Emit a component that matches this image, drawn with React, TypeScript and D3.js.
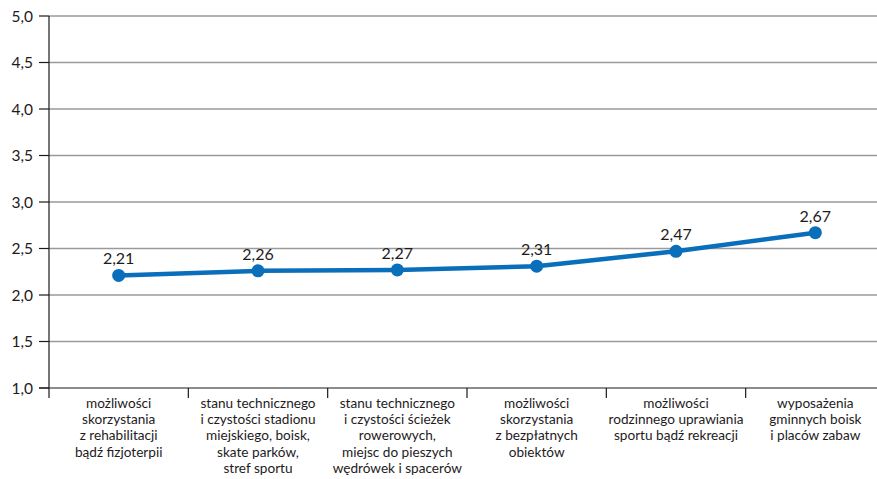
import React from 'react';
import * as d3 from 'd3';

const categories: string[][] = [
  ['możliwości', 'skorzystania', 'z rehabilitacji', 'bądź fizjoterpii'],
  ['stanu technicznego', 'i czystości stadionu', 'miejskiego, boisk,', 'skate parków,', 'stref sportu'],
  ['stanu technicznego', 'i czystości ścieżek', 'rowerowych,', 'miejsc do pieszych', 'wędrówek i spacerów'],
  ['możliwości', 'skorzystania', 'z bezpłatnych', 'obiektów'],
  ['możliwości', 'rodzinnego uprawiania', 'sportu bądź rekreacji'],
  ['wyposażenia', 'gminnych boisk', 'i placów zabaw'],
];
const values = [2.21, 2.26, 2.27, 2.31, 2.47, 2.67];
const yTicks = [1, 1.5, 2, 2.5, 3, 3.5, 4, 4.5, 5];

const W = 877;
const H = 479;
const margin = { top: 16, right: -8, bottom: 91, left: 49 };
const FONT = 'Lato, "Open Sans", sans-serif';

export default function App() {
  const x = d3
    .scaleBand<number>()
    .domain(values.map((_, i) => i))
    .range([margin.left, W - margin.right]);
  const y = d3.scaleLinear().domain([1, 5]).range([H - margin.bottom, margin.top]);
  const fmt = (v: number, d: number) => v.toFixed(d).replace('.', ',');

  const line = d3
    .line<number>()
    .x((_, i) => (x(i) as number) + x.bandwidth() / 2)
    .y((d) => y(d));

  const y0 = y(1);

  return (
    <div style={{ position: 'fixed', left: 0, top: 0 }}>
      <svg width={W} height={H} style={{ display: 'block', fontFamily: FONT }}>
        <rect width={W} height={H} fill="#fff" />
        {yTicks.slice(1).map((t) => (
          <line key={t} x1={margin.left} x2={W} y1={y(t)} y2={y(t)} stroke="#9a9a9a" strokeWidth={1.3} />
        ))}
        {yTicks.map((t) => (
          <g key={'t' + t}>
            <line x1={39} x2={margin.left} y1={y(t)} y2={y(t)} stroke="#1a1a1a" strokeWidth={1.2} />
            <text x={33} y={y(t)} dy="0.36em" textAnchor="end" fontSize={15.5} fill="#1e1b1c">
              {fmt(t, 1)}
            </text>
          </g>
        ))}
        <line x1={margin.left} x2={margin.left} y1={margin.top} y2={y0 + 10} stroke="#1a1a1a" strokeWidth={1.2} />
        <line x1={39} x2={W} y1={y0} y2={y0} stroke="#1a1a1a" strokeWidth={1.2} />
        {values.map((_, i) =>
          i === 0 ? null : (
            <line key={'xt' + i} x1={x(i) as number} x2={x(i) as number} y1={y0} y2={y0 + 10} stroke="#1a1a1a" strokeWidth={1.2} />
          )
        )}
        {categories.map((lines, i) => (
          <text key={'c' + i} textAnchor="middle" fontSize={13.6} fill="#1e1b1c">
            {lines.map((l, j) => (
              <tspan key={j} x={(x(i) as number) + x.bandwidth() / 2} y={408 + j * 16.2}>
                {l}
              </tspan>
            ))}
          </text>
        ))}
        <path d={line(values) || ''} fill="none" stroke="#0a6fba" strokeWidth={4.5} strokeLinejoin="round" />
        {values.map((v, i) => (
          <g key={'p' + i}>
            <circle cx={(x(i) as number) + x.bandwidth() / 2} cy={y(v)} r={6.5} fill="#0a6fba" />
            <text x={(x(i) as number) + x.bandwidth() / 2} y={y(v) - 11} textAnchor="middle" fontSize={16} fill="#1e1b1c">
              {fmt(v, 2)}
            </text>
          </g>
        ))}
      </svg>
    </div>
  );
}
